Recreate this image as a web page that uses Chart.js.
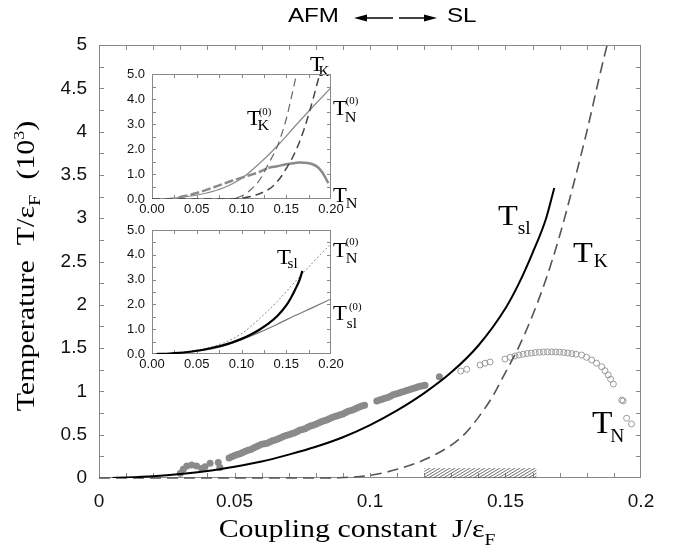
<!DOCTYPE html>
<html>
<head>
<meta charset="utf-8">
<script src="https://cdn.jsdelivr.net/npm/chart.js@4.4.0/dist/chart.umd.min.js"></script>
<style>
    body { margin: 0; background: #fff; }
    #wrap { position: relative; width: 680px; height: 548px; }
    #wrap canvas { position: absolute; }
</style>
</head>
<body>
<div id="wrap">
    <canvas id="mainChart" width="680" height="548" style="left:0;top:0"></canvas>
    <canvas id="insetTop" width="280" height="180" style="left:100px;top:40px"></canvas>
    <canvas id="insetBottom" width="280" height="160" style="left:100px;top:215px"></canvas>
</div>
<script>
// T_sl (black solid, main plot and lower inset)
var tslX = [0.005, 0.01, 0.02, 0.03, 0.04, 0.05, 0.06, 0.07, 0.08, 0.09, 0.10, 0.11, 0.12, 0.13, 0.14, 0.15, 0.155, 0.16, 0.165, 0.168];
var tslY = [0, 0.005, 0.02, 0.045, 0.08, 0.13, 0.19, 0.27, 0.36, 0.47, 0.61, 0.78, 0.98, 1.22, 1.53, 1.96, 2.25, 2.6, 3.0, 3.35];

// T_K (dashed, main plot and upper inset)
var tkX = [0, 0.05, 0.08, 0.09, 0.10, 0.11, 0.12, 0.13, 0.135, 0.14, 0.145, 0.15, 0.155, 0.16, 0.165, 0.17, 0.175, 0.18, 0.185, 0.1875];
var tkY = [0, 0, 0, 0.005, 0.03, 0.1, 0.21, 0.38, 0.51, 0.7, 0.93, 1.22, 1.52, 1.88, 2.3, 2.8, 3.38, 4.0, 4.68, 5.0];

// filled grey dots
var dotX = [0.030, 0.0311, 0.0324, 0.0342, 0.036, 0.0379, 0.0391, 0.041, 0.044, 0.0446,
    0.048, 0.049, 0.050, 0.051, 0.052, 0.053, 0.054, 0.055, 0.056, 0.057, 0.058, 0.059,
    0.060, 0.061, 0.062, 0.063, 0.064, 0.065, 0.066, 0.067, 0.068, 0.069, 0.070, 0.071,
    0.072, 0.073, 0.074, 0.075, 0.076, 0.077, 0.078, 0.079, 0.080, 0.081, 0.082, 0.083,
    0.084, 0.085, 0.086, 0.087, 0.088, 0.089, 0.090, 0.091, 0.092, 0.093, 0.094, 0.095,
    0.096, 0.097, 0.098,
    0.1025, 0.1035, 0.1045, 0.1055, 0.1065, 0.1075, 0.1085, 0.1095, 0.1105, 0.1115,
    0.1125, 0.1135, 0.1145, 0.1155, 0.1165, 0.1175, 0.1185, 0.1195, 0.1203, 0.1256];
var dotY = [0.054, 0.10, 0.14, 0.15, 0.14, 0.11, 0.13, 0.17, 0.18, 0.12,
    0.23, 0.245, 0.26, 0.27, 0.28, 0.295, 0.31, 0.32, 0.33, 0.345, 0.36, 0.375,
    0.39, 0.395, 0.40, 0.415, 0.43, 0.44, 0.45, 0.465, 0.48, 0.49, 0.50, 0.51,
    0.52, 0.535, 0.55, 0.56, 0.57, 0.585, 0.60, 0.61, 0.62, 0.635, 0.65, 0.66,
    0.67, 0.685, 0.70, 0.71, 0.72, 0.73, 0.74, 0.755, 0.77, 0.78, 0.79, 0.805,
    0.82, 0.83, 0.84,
    0.89, 0.90, 0.91, 0.92, 0.93, 0.945, 0.96, 0.97, 0.98, 0.99,
    1.00, 1.01, 1.02, 1.03, 1.04, 1.05, 1.06, 1.065, 1.07, 1.17];

// open circles T_N
var circX = [0.1335, 0.1357, 0.1406, 0.1424, 0.1443, 0.1498, 0.1517, 0.1535, 0.155, 0.1565, 0.158, 0.1595,
    0.161, 0.1625, 0.164, 0.1655, 0.167, 0.1685, 0.170, 0.1715, 0.173, 0.1745, 0.176, 0.1781, 0.1799,
    0.1818, 0.1836, 0.1855, 0.1867, 0.1879, 0.1888, 0.1898, 0.1929, 0.1934, 0.1947, 0.1965];
var circY = [1.235, 1.255, 1.305, 1.325, 1.34, 1.374, 1.394, 1.409, 1.42, 1.43, 1.437, 1.443,
    1.448, 1.452, 1.455, 1.457, 1.457, 1.456, 1.453, 1.449, 1.443, 1.437, 1.43, 1.42, 1.394,
    1.363, 1.325, 1.285, 1.239, 1.19, 1.14, 1.085, 0.90, 0.89, 0.69, 0.624];

// hatched strip on the axis
var hatchX = [0.12, 0.1615];
var hatchY = [0.115, 0.115];

// inset curves
var tn0X = [0, 0.02, 0.04, 0.06, 0.08, 0.10, 0.12, 0.14, 0.16, 0.18, 0.20];
var tn0Y = [0, 0.03, 0.1, 0.23, 0.45, 0.82, 1.42, 2.12, 2.92, 3.7, 4.45];
var tk0X = [0.08, 0.09, 0.10, 0.11, 0.12, 0.13, 0.14, 0.145, 0.15, 0.155, 0.1615];
var tk0Y = [0, 0.02, 0.12, 0.36, 0.75, 1.4, 2.1, 2.6, 3.2, 3.95, 5.0];
var tnInX = [0.03, 0.05, 0.07, 0.09, 0.11, 0.12, 0.13, 0.14, 0.15, 0.16, 0.165, 0.17, 0.175, 0.18, 0.185, 0.19, 0.193, 0.197];
var tnInY = [0.06, 0.24, 0.48, 0.74, 0.96, 1.08, 1.24, 1.31, 1.39, 1.44, 1.46, 1.45, 1.43, 1.38, 1.28, 1.08, 0.9, 0.63];
var tsl0X = [0, 0.02, 0.04, 0.06, 0.08, 0.10, 0.12, 0.14, 0.16, 0.18, 0.20];
var tsl0Y = [0, 0.02, 0.07, 0.16, 0.33, 0.58, 0.87, 1.2, 1.55, 1.88, 2.22];

var SERIF = '"Liberation Serif", "Times New Roman", serif';
var SANS = '"Liberation Sans", Arial, sans-serif';

function pts(xs, ys) {
    var out = [];
    for (var i = 0; i < xs.length; i++) out.push({ x: xs[i], y: ys[i] });
    return out;
}

// text with sub/superscripts
function drawLabel(ctx, L) {
    var fam = L.font || SERIF;
    function run(draw) {
        var x = 0, base = 0, right = 0;
        L.parts.forEach(function (p) {
            var kind = p[1] || '';
            var size = kind === 'sub' ? L.subSize : (kind ? L.supSize : L.size);
            ctx.font = size + 'px ' + fam;
            var w = ctx.measureText(p[0]).width;
            if (!kind) {
                if (draw) ctx.fillText(p[0], x, 0);
                x += w; base = x;
            } else {
                var start = base + (kind === 'sub' ? (L.subKern || 0) : (L.supKern || 0));
                var dy = kind === 'sub' ? L.subDy : -L.supDy;
                if (draw) ctx.fillText(p[0], start, dy);
                if (kind !== 'supS') { x = start + w; base = x; }
                right = Math.max(right, start + w);
            }
            right = Math.max(right, x);
        });
        return right;
    }
    ctx.save();
    ctx.translate(L.x, L.y);
    if (L.rot) ctx.rotate(L.rot);
    ctx.scale(L.stretch || 1, 1);
    ctx.fillStyle = '#000';
    ctx.textBaseline = 'alphabetic';
    if (L.align === 'center') ctx.translate(-run(false) / 2, 0);
    run(true);
    ctx.restore();
}

var labels = [
    { x: 498, y: 225, size: 30, subSize: 18, subDy: 9, stretch: 1.08, parts: [['T'], ['sl', 'sub']] },
    { x: 573, y: 262, size: 30, subSize: 18, subDy: 5, subKern: 1, stretch: 1.08, parts: [['T'], ['K', 'sub']] },
    { x: 592, y: 433, size: 31, subSize: 18, subDy: 9, subKern: -2, stretch: 1.08, parts: [['T'], ['N', 'sub']] },
    // upper inset
    { x: 310, y: 71, size: 21, subSize: 14, subDy: 5, subKern: -5, stretch: 1.08, parts: [['T'], ['K', 'sub']] },
    { x: 247, y: 125, size: 21, subSize: 15, subDy: 5, subKern: -3, supSize: 10, supDy: 10, supKern: -2, stretch: 1.08, parts: [['T'], ['(0)', 'supS'], ['K', 'sub']] },
    { x: 333, y: 115, size: 21, subSize: 15, subDy: 7, subKern: -2, supSize: 10, supDy: 11, supKern: -1, stretch: 1.08, parts: [['T'], ['(0)', 'supS'], ['N', 'sub']] },
    { x: 333, y: 202, size: 21, subSize: 15, subDy: 6, subKern: -1, stretch: 1.08, parts: [['T'], ['N', 'sub']] },
    // lower inset
    { x: 277, y: 264, size: 21, subSize: 14, subDy: 4, subKern: -3, stretch: 1.08, parts: [['T'], ['sl', 'sub']] },
    { x: 333, y: 257, size: 21, subSize: 15, subDy: 6, subKern: -1, supSize: 10, supDy: 12, supKern: -1, stretch: 1.08, parts: [['T'], ['(0)', 'supS'], ['N', 'sub']] },
    { x: 333, y: 320, size: 21, subSize: 14, subDy: 8, subKern: 0, supSize: 10, supDy: 10, supKern: 2, stretch: 1.08, parts: [['T'], ['(0)', 'supS'], ['sl', 'sub']] },
    // axis titles
    { x: 357, y: 537, align: 'center', size: 26, subSize: 17, subDy: 8, stretch: 1.15, parts: [['Coupling constant  J/\u03b5'], ['F', 'sub']] },
    { x: 34, y: 266, rot: -Math.PI / 2, align: 'center', size: 25, subSize: 17, subDy: 6, supSize: 15, supDy: 10, stretch: 1.2,
      parts: [['Temperature  T/\u03b5'], ['F', 'sub'], ['  (10'], ['3', 'sup'], [')']] },
    // top caption
    { x: 288, y: 22, font: SANS, size: 21, stretch: 1.15, parts: [['AFM']] },
    { x: 447, y: 22, font: SANS, size: 21, stretch: 1.15, parts: [['SL']] }
];

function arrow(ctx, x0, x1, y) {
    var dir = x1 > x0 ? 1 : -1;
    ctx.beginPath();
    ctx.moveTo(x0, y);
    ctx.lineTo(x1 - dir * 10, y);
    ctx.stroke();
    ctx.beginPath();
    ctx.moveTo(x1, y);
    ctx.lineTo(x1 - dir * 13, y - 3.5);
    ctx.lineTo(x1 - dir * 13, y + 3.5);
    ctx.closePath();
    ctx.fill();
}

var textPlugin = {
    id: 'texts',
    afterDraw: function (chart) {
        var ctx = chart.ctx;
        labels.forEach(function (L) { drawLabel(ctx, L); });
        ctx.save();
        ctx.strokeStyle = '#000';
        ctx.fillStyle = '#000';
        ctx.lineWidth = 1.5;
        arrow(ctx, 393, 354, 18);
        arrow(ctx, 399, 437, 18);
        ctx.restore();
    }
};

// frame with inward ticks on all four sides
function framePlugin(xStep, yStep, len) {
    return {
        id: 'frameTicks',
        beforeDatasetsDraw: function (chart) {
            var a = chart.chartArea, ctx = chart.ctx;
            var sx = chart.scales.x, sy = chart.scales.y;
            ctx.save();
            ctx.strokeStyle = '#888';
            ctx.lineWidth = 1;
            ctx.strokeRect(Math.round(a.left) + 0.5, Math.round(a.top) + 0.5,
                Math.round(a.right - a.left) - 1, Math.round(a.bottom - a.top) - 1);
            ctx.beginPath();
            var n = Math.round((sx.max - sx.min) / xStep);
            for (var i = 1; i < n; i++) {
                var px = Math.round(sx.getPixelForValue(sx.min + i * xStep)) + 0.5;
                ctx.moveTo(px, a.bottom); ctx.lineTo(px, a.bottom - len);
                ctx.moveTo(px, a.top); ctx.lineTo(px, a.top + len);
            }
            n = Math.round((sy.max - sy.min) / yStep);
            for (var j = 1; j < n; j++) {
                var py = Math.round(sy.getPixelForValue(sy.min + j * yStep)) + 0.5;
                ctx.moveTo(a.left, py); ctx.lineTo(a.left + len, py);
                ctx.moveTo(a.right, py); ctx.lineTo(a.right - len, py);
            }
            ctx.stroke();
            ctx.restore();
        }
    };
}

function makeHatch() {
    var c = document.createElement('canvas');
    c.width = 5; c.height = 3;
    var g = c.getContext('2d');
    g.strokeStyle = '#333';
    g.lineWidth = 0.7;
    g.beginPath();
    for (var k = -1; k <= 1; k++) {
        g.moveTo(-5 + k * 5, 6);
        g.lineTo(10 + k * 5, -3);
    }
    g.stroke();
    return g.createPattern(c, 'repeat');
}

function lineSet(data, color, width, dash, order) {
    return {
        data: data, showLine: true, borderColor: color, borderWidth: width, borderDash: dash || [],
        pointRadius: 0, cubicInterpolationMode: 'monotone', order: order, fill: false
    };
}

function plainNumber(v) { return String(Math.round(v * 1000) / 1000); }

var noPlugins = { legend: { display: false }, tooltip: { enabled: false } };

// main chart
var mainCtx = document.getElementById('mainChart').getContext('2d');
var mainChart = new Chart(mainCtx, {
    type: 'scatter',
    data: {
        datasets: [
            lineSet(pts(tslX, tslY), '#000', 2, null, 0),
            Object.assign(lineSet(pts(tkX, tkY), '#555', 1.6, [11, 6], 1), { clip: 4 }),
            {
                data: pts(dotX, dotY), pointRadius: 3.5, pointBackgroundColor: '#8a8a8a',
                pointBorderWidth: 0, showLine: false, order: 2
            },
            {
                data: pts(circX, circY), pointRadius: 3, pointBackgroundColor: 'rgba(0,0,0,0)',
                pointBorderColor: '#9a9a9a', pointBorderWidth: 1, showLine: false, order: 3
            },
            {
                data: pts(hatchX, hatchY), showLine: true, borderWidth: 0, pointRadius: 0,
                fill: 'origin', backgroundColor: makeHatch(), order: 4
            }
        ]
    },
    options: {
        responsive: false,
        animation: false,
        layout: { padding: { top: 45, right: 39, left: 0, bottom: 0 } },
        plugins: noPlugins,
        scales: {
            x: {
                type: 'linear', min: 0, max: 0.2,
                afterFit: function (s) { s.height = 70; },
                grid: { display: false, drawTicks: false },
                border: { display: false },
                ticks: {
                    stepSize: 0.05, autoSkip: false, maxRotation: 0, padding: 12, color: '#111',
                    font: { family: SANS, size: 19 }, callback: plainNumber
                }
            },
            y: {
                min: 0, max: 5,
                afterFit: function (s) { s.width = 99; },
                grid: { display: false, drawTicks: false },
                border: { display: false },
                ticks: {
                    stepSize: 0.5, autoSkip: false, padding: 12, color: '#111',
                    font: { family: SANS, size: 19 }, callback: plainNumber
                }
            }
        }
    },
    plugins: [framePlugin(0.01, 0.25, 5), textPlugin]
});

function insetOptions(padTop, xHeight) {
    return {
        responsive: false,
        animation: false,
        layout: { padding: { top: padTop, right: 49, left: 0, bottom: 0 } },
        plugins: noPlugins,
        scales: {
            x: {
                type: 'linear', min: 0, max: 0.2,
                afterFit: function (s) { s.height = xHeight; },
                grid: { display: false, drawTicks: false },
                border: { display: false },
                ticks: {
                    stepSize: 0.05, autoSkip: false, maxRotation: 0, padding: 3, color: '#111',
                    font: { family: SANS, size: 13 },
                    callback: function (v) { return v.toFixed(2); }
                }
            },
            y: {
                min: 0, max: 5,
                afterFit: function (s) { s.width = 52; },
                grid: { display: false, drawTicks: false },
                border: { display: false },
                ticks: {
                    stepSize: 1, autoSkip: false, padding: 7, color: '#111',
                    font: { family: SANS, size: 13 },
                    callback: function (v) { return v.toFixed(1); }
                }
            }
        }
    };
}

// upper inset: T_K, T_K^(0), T_N, T_N^(0)
var tnInset = lineSet(pts(tnInX, tnInY), '#8a8a8a', 2.5, null, 3);
tnInset.segment = {
    borderDash: function (c) { return c.p1.parsed.x <= 0.13 ? [9, 3] : undefined; }
};
var insetTopChart = new Chart(document.getElementById('insetTop').getContext('2d'), {
    type: 'scatter',
    data: {
        datasets: [
            lineSet(pts(tkX, tkY), '#444', 1.5, [8, 5], 0),
            lineSet(pts(tk0X, tk0Y), '#666', 1.2, [8, 5], 1),
            lineSet(pts(tn0X, tn0Y), '#8a8a8a', 1.2, null, 2),
            tnInset
        ]
    },
    options: insetOptions(34, 21),
    plugins: [framePlugin(0.025, 0.5, 4)]
});

// lower inset: T_sl, T_sl^(0), T_N^(0)
var insetBottomChart = new Chart(document.getElementById('insetBottom').getContext('2d'), {
    type: 'scatter',
    data: {
        datasets: [
            lineSet(pts(tslX, tslY), '#000', 2.2, null, 0),
            lineSet(pts(tsl0X, tsl0Y), '#777', 1.2, null, 1),
            lineSet(pts(tn0X, tn0Y), '#8a8a8a', 1, [2, 2], 2)
        ]
    },
    options: insetOptions(15, 21),
    plugins: [framePlugin(0.025, 0.5, 4)]
});
</script>
</body>
</html>
